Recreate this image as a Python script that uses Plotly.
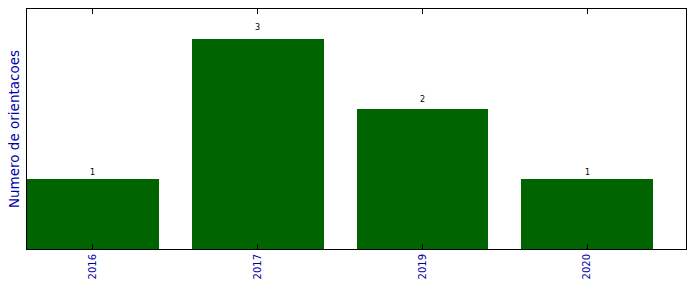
import plotly.graph_objects as go

categories = ["2016", "2017", "2019", "2020"]
values = [1, 3, 2, 1]
labels = ["1", "3", "2", "1"]

fig = go.Figure()
fig.add_trace(go.Bar(
    x=list(range(len(categories))), y=values, width=0.8,
    marker=dict(color="#006400", line=dict(width=0)),
    showlegend=False,
))
for i, (v, t) in enumerate(zip(values, labels)):
    fig.add_annotation(x=i, y=v * 1.04, text=t, showarrow=False,
                       yanchor="bottom", borderpad=0, yshift=-2,
                       font=dict(family="DejaVu Sans", size=8, color="black"))

fig.update_layout(
    width=696, height=292,
    margin=dict(l=27, r=10, t=9, b=43),
    paper_bgcolor="white", plot_bgcolor="white",
    bargap=0,
    xaxis=dict(
        range=[-0.4, 3.6], tickmode="array",
        tickvals=list(range(len(categories))), ticktext=categories,
        tickangle=-90, ticks="inside", ticklen=5, tickcolor="black",
        showline=True, linecolor="black", linewidth=1, mirror="ticks",
        showgrid=False, zeroline=False,
        tickfont=dict(family="DejaVu Sans", size=10, color="#0000aa"),
    ),
    yaxis=dict(
        range=[0, 3.43], showticklabels=False, ticks="",
        showline=True, linecolor="black", linewidth=1, mirror=True,
        showgrid=False, zeroline=False,
        title=dict(text="Numero de orientacoes", standoff=3,
                   font=dict(family="DejaVu Sans", size=13.5, color="#0000aa")),
    ),
)
fig.write_html("out.html")
